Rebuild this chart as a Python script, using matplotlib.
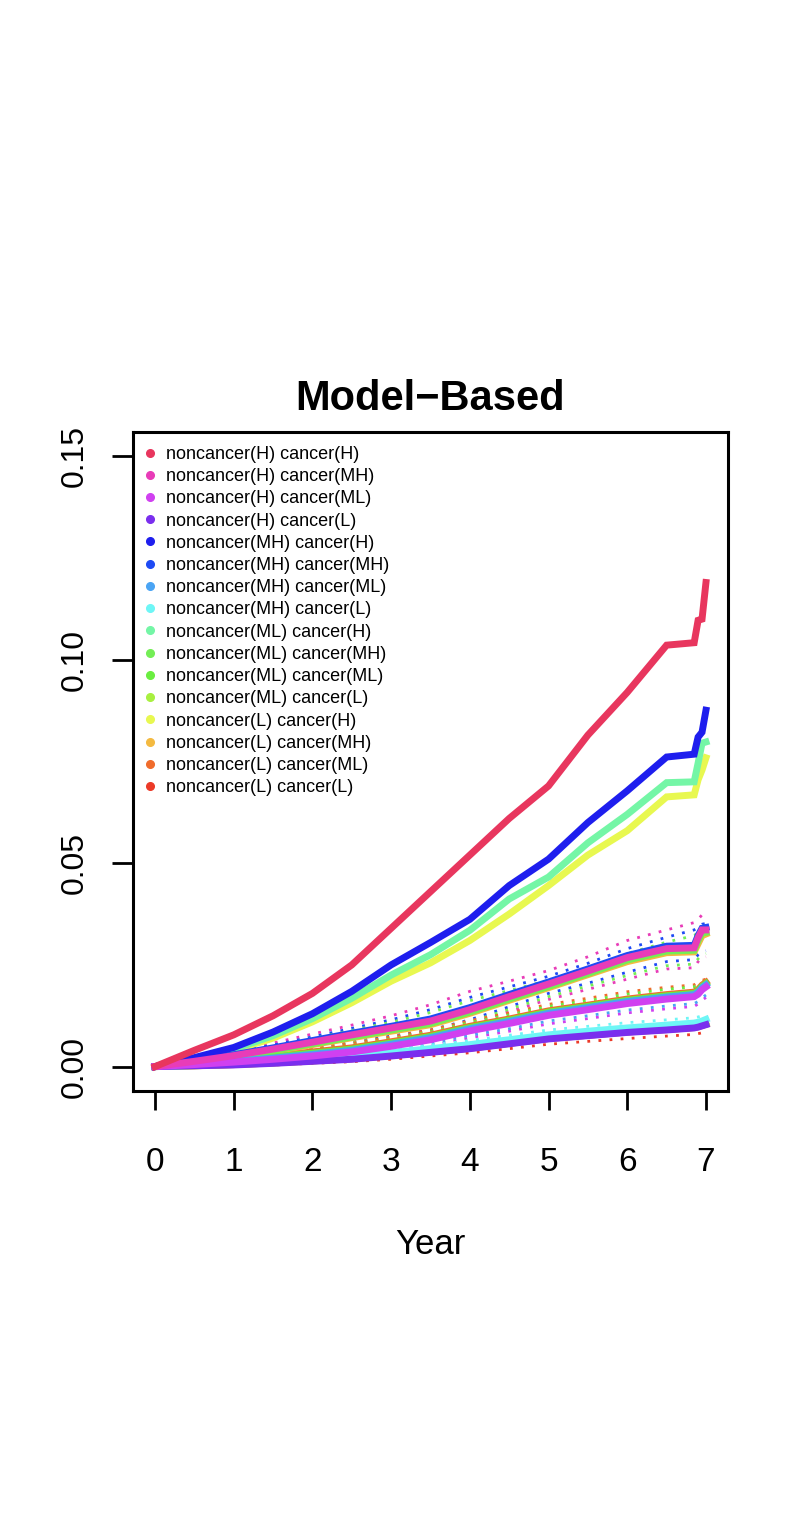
import numpy as np
import matplotlib.pyplot as plt
from matplotlib.lines import Line2D

plt.rcParams['font.family'] = ['Liberation Sans', 'DejaVu Sans']

years = [0, 0.5, 1.0, 1.5, 2.0, 2.5, 3.0, 3.5, 4.0, 4.5, 5.0, 5.5, 6.0, 6.5, 6.85, 6.9, 6.95, 7.0]

labels = ["noncancer(H) cancer(H)", "noncancer(H) cancer(MH)", "noncancer(H) cancer(ML)", "noncancer(H) cancer(L)",
          "noncancer(MH) cancer(H)", "noncancer(MH) cancer(MH)", "noncancer(MH) cancer(ML)", "noncancer(MH) cancer(L)",
          "noncancer(ML) cancer(H)", "noncancer(ML) cancer(MH)", "noncancer(ML) cancer(ML)", "noncancer(ML) cancer(L)",
          "noncancer(L) cancer(H)", "noncancer(L) cancer(MH)", "noncancer(L) cancer(ML)", "noncancer(L) cancer(L)"]
colors = ["#E8365E", "#E83CB8", "#D040F0", "#7A2EEE",
          "#1E1EEE", "#1E4AF4", "#4AA4F4", "#6EF6F6",
          "#74F6A6", "#74EE56", "#6AEE40", "#A8F040",
          "#E8F850", "#F4BA40", "#F06C2C", "#EC3A28"]

# cumulative incidence estimates
h_h   = [0, 0.0040, 0.0078, 0.0125, 0.0180, 0.0250, 0.0340, 0.0430, 0.0520, 0.0610, 0.0690, 0.0815, 0.0920, 0.1036, 0.1042, 0.1097, 0.1100, 0.1190]
h_mh  = [0, 0.0013, 0.0027, 0.0043, 0.0060, 0.0078, 0.0095, 0.0112, 0.0140, 0.0172, 0.0203, 0.0235, 0.0268, 0.0290, 0.0292, 0.0317, 0.0336, 0.0336]
h_ml  = [0, 0.0005, 0.0011, 0.0018, 0.0026, 0.0036, 0.0050, 0.0066, 0.0088, 0.0106, 0.0126, 0.0140, 0.0155, 0.0166, 0.0172, 0.0178, 0.0189, 0.0196]
h_l   = [0, 0.0002, 0.0004, 0.0008, 0.0013, 0.0018, 0.0026, 0.0035, 0.0044, 0.0056, 0.0068, 0.0076, 0.0084, 0.0090, 0.0095, 0.0097, 0.0100, 0.0103]
mh_h  = [0, 0.0022, 0.0047, 0.0085, 0.0130, 0.0185, 0.0250, 0.0305, 0.0362, 0.0445, 0.0510, 0.0600, 0.0678, 0.0761, 0.0768, 0.0810, 0.0822, 0.0876]
mh_mh = [0, 0.0014, 0.0029, 0.0046, 0.0064, 0.0082, 0.0099, 0.0117, 0.0145, 0.0177, 0.0208, 0.0240, 0.0273, 0.0296, 0.0298, 0.0322, 0.0340, 0.0342]
mh_ml = [0, 0.0006, 0.0013, 0.0021, 0.0030, 0.0040, 0.0055, 0.0071, 0.0093, 0.0111, 0.0131, 0.0145, 0.0160, 0.0171, 0.0177, 0.0183, 0.0194, 0.0201]
mh_l  = [0, 0.0003, 0.0007, 0.0012, 0.0018, 0.0025, 0.0034, 0.0044, 0.0054, 0.0066, 0.0078, 0.0087, 0.0095, 0.0102, 0.0107, 0.0109, 0.0112, 0.0116]
ml_h  = [0, 0.0020, 0.0043, 0.0076, 0.0118, 0.0168, 0.0225, 0.0275, 0.0335, 0.0412, 0.0466, 0.0550, 0.0620, 0.0698, 0.0700, 0.0746, 0.0795, 0.0798]
ml_mh = [0, 0.0012, 0.0025, 0.0040, 0.0056, 0.0073, 0.0090, 0.0106, 0.0134, 0.0166, 0.0197, 0.0229, 0.0262, 0.0284, 0.0286, 0.0310, 0.0328, 0.0330]
ml_ml = [0, 0.0007, 0.0015, 0.0024, 0.0033, 0.0043, 0.0058, 0.0074, 0.0096, 0.0114, 0.0134, 0.0148, 0.0163, 0.0174, 0.0180, 0.0186, 0.0197, 0.0204]
ml_l  = [0, 0.0002, 0.0005, 0.0009, 0.0014, 0.0020, 0.0028, 0.0037, 0.0046, 0.0058, 0.0070, 0.0078, 0.0086, 0.0092, 0.0097, 0.0099, 0.0102, 0.0105]
l_h   = [0, 0.0018, 0.0040, 0.0070, 0.0110, 0.0157, 0.0210, 0.0255, 0.0310, 0.0375, 0.0445, 0.0520, 0.0580, 0.0663, 0.0668, 0.0705, 0.0729, 0.0759]
l_mh  = [0, 0.0011, 0.0023, 0.0038, 0.0054, 0.0071, 0.0087, 0.0103, 0.0131, 0.0163, 0.0194, 0.0226, 0.0258, 0.0280, 0.0282, 0.0302, 0.0322, 0.0326]
l_ml  = [0, 0.0008, 0.0016, 0.0026, 0.0036, 0.0046, 0.0061, 0.0077, 0.0099, 0.0117, 0.0137, 0.0151, 0.0166, 0.0177, 0.0183, 0.0189, 0.0200, 0.0207]
l_l   = [0, 0.0002, 0.0005, 0.0009, 0.0014, 0.0019, 0.0027, 0.0036, 0.0045, 0.0057, 0.0069, 0.0077, 0.0085, 0.0091, 0.0096, 0.0098, 0.0101, 0.0104]

# pointwise confidence limits (dotted)
h_mh_up  = [0, 0.0020, 0.0038, 0.0058, 0.0080, 0.0102, 0.0125, 0.0152, 0.0185, 0.0210, 0.0236, 0.0270, 0.0310, 0.0336, 0.0354, 0.0362, 0.0373, 0.0373]
mh_mh_up = [0, 0.0018, 0.0035, 0.0053, 0.0073, 0.0094, 0.0115, 0.0140, 0.0170, 0.0196, 0.0222, 0.0254, 0.0290, 0.0318, 0.0336, 0.0342, 0.0350, 0.0352]
ml_mh_up = [0, 0.0017, 0.0033, 0.0050, 0.0069, 0.0089, 0.0109, 0.0133, 0.0162, 0.0187, 0.0212, 0.0243, 0.0278, 0.0306, 0.0322, 0.0330, 0.0340, 0.0345]
h_mh_lo  = [0, 0.0008, 0.0017, 0.0029, 0.0042, 0.0056, 0.0068, 0.0082, 0.0105, 0.0135, 0.0165, 0.0190, 0.0215, 0.0240, 0.0243, 0.0258, 0.0268, 0.0270]
mh_mh_lo = [0, 0.0010, 0.0020, 0.0033, 0.0047, 0.0062, 0.0075, 0.0090, 0.0115, 0.0147, 0.0180, 0.0205, 0.0232, 0.0258, 0.0263, 0.0275, 0.0283, 0.0285]
ml_mh_lo = [0, 0.0009, 0.0018, 0.0031, 0.0045, 0.0059, 0.0072, 0.0086, 0.0110, 0.0141, 0.0172, 0.0198, 0.0224, 0.0248, 0.0252, 0.0265, 0.0275, 0.0278]
l_ml_up  = [0, 0.0011, 0.0021, 0.0033, 0.0045, 0.0057, 0.0073, 0.0090, 0.0113, 0.0132, 0.0153, 0.0168, 0.0184, 0.0195, 0.0201, 0.0207, 0.0212, 0.0215]
ml_ml_up = [0, 0.0010, 0.0019, 0.0030, 0.0041, 0.0052, 0.0068, 0.0085, 0.0108, 0.0127, 0.0148, 0.0162, 0.0178, 0.0190, 0.0196, 0.0202, 0.0208, 0.0212]
h_ml_lo  = [0, 0.0002, 0.0006, 0.0011, 0.0017, 0.0025, 0.0037, 0.0051, 0.0071, 0.0087, 0.0105, 0.0118, 0.0132, 0.0142, 0.0148, 0.0154, 0.0163, 0.0170]
mh_ml_lo = [0, 0.0003, 0.0008, 0.0014, 0.0021, 0.0030, 0.0043, 0.0057, 0.0077, 0.0093, 0.0112, 0.0125, 0.0139, 0.0149, 0.0155, 0.0160, 0.0169, 0.0176]
mh_l_up  = [0, 0.0005, 0.0010, 0.0016, 0.0024, 0.0032, 0.0042, 0.0053, 0.0064, 0.0077, 0.0090, 0.0099, 0.0108, 0.0115, 0.0120, 0.0122, 0.0125, 0.0128]
l_l_lo   = [0, 0.0001, 0.0002, 0.0004, 0.0008, 0.0012, 0.0018, 0.0026, 0.0034, 0.0044, 0.0055, 0.0062, 0.0069, 0.0075, 0.0079, 0.0081, 0.0083, 0.0086]

curves = [h_h, h_mh, h_ml, h_l, mh_h, mh_mh, mh_ml, mh_l,
          ml_h, ml_mh, ml_ml, ml_l, l_h, l_mh, l_ml, l_l]
bands = [(h_mh_up, 1), (mh_mh_up, 5), (ml_mh_up, 9), (h_mh_lo, 1), (mh_mh_lo, 5), (ml_mh_lo, 9),
         (l_ml_up, 14), (ml_ml_up, 10), (h_ml_lo, 2), (mh_ml_lo, 6), (mh_l_up, 7), (l_l_lo, 15)]

fig = plt.figure(figsize=(8.06, 15.26), dpi=100)
ax = fig.add_axes([133/806, 1-1091/1526, 595/806, 659/1526])

for vals, k in bands:
    ax.plot(years, vals, color=colors[k], lw=2.0, ls=(0, (1, 3)), zorder=1)

# R draws in order, so the first group ends up on top
for k in range(15, -1, -1):
    ax.plot(years, curves[k], color=colors[k], lw=5, solid_joinstyle='miter', zorder=2 + (16-k))

ax.set_xlim(-0.28, 7.28)
ax.set_ylim(-0.006, 0.156)
ax.set_xticks(range(8))
ax.set_yticks([0, 0.05, 0.10, 0.15])
ax.set_yticklabels(["0.00", "0.05", "0.10", "0.15"], rotation=90, va='center')
ax.tick_params(axis='x', length=14, width=2, labelsize=24, pad=26)
ax.tick_params(axis='y', length=15, width=2, labelsize=23, pad=16)
for s in ax.spines.values():
    s.set_linewidth(2.2)

handles = [Line2D([], [], ls='none', marker='o', ms=5.5, color=c) for c in colors]
ax.legend(handles, labels, loc='upper left', bbox_to_anchor=(0.0165, 0.979), frameon=False,
          fontsize=13, handlelength=0.8, handletextpad=0.5, labelspacing=0.29,
          borderaxespad=0, borderpad=0)

fig.text(430.5/806, 1-399/1526, "Model\u2212Based", ha='center', va='center', fontsize=30, fontweight='bold')
fig.text(430.5/806, 1-1245/1526, "Year", ha='center', va='center', fontsize=25)

fig.savefig("out.png", dpi=100)
